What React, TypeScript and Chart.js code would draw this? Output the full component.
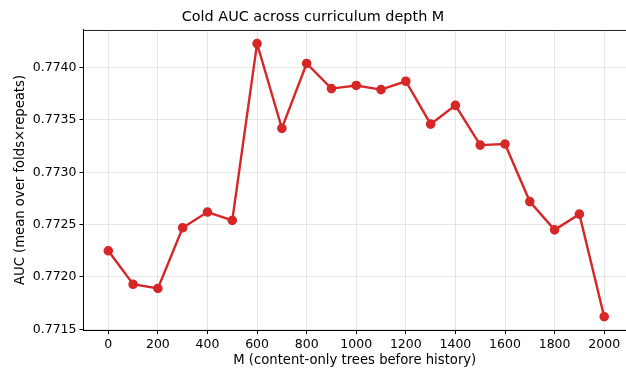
import React, { useEffect, useRef } from "react";
import { Chart, registerables } from "chart.js";

Chart.register(...registerables);

const depthM = [0, 100, 200, 300, 400, 500, 600, 700, 800, 900, 1000, 1100, 1200, 1300, 1400, 1500, 1600, 1700, 1800, 1900, 2000];
const aucValues = [0.77225, 0.77193, 0.77189, 0.77247, 0.77262, 0.77254, 0.77423, 0.77342, 0.77404, 0.77380, 0.77383, 0.77379, 0.77387, 0.77346, 0.77364, 0.77326, 0.77327, 0.77272, 0.77245, 0.77260, 0.77162];
const xTicks = [0, 200, 400, 600, 800, 1000, 1200, 1400, 1600, 1800, 2000];
const yTicks = [0.7715, 0.772, 0.7725, 0.773, 0.7735, 0.774];

const FONT = "'DejaVu Sans', sans-serif";

const framePlugin = {
  id: "frame",
  afterDatasetsDraw(chart: any) {
    const { ctx, chartArea } = chart;
    ctx.save();
    ctx.strokeStyle = "#222";
    ctx.lineWidth = 1;
    ctx.beginPath();
    ctx.moveTo(chartArea.left, chartArea.top + 0.5);
    ctx.lineTo(chartArea.right + 2, chartArea.top + 0.5);
    ctx.stroke();
    ctx.restore();
  },
};

export default function App() {
  const ref = useRef<HTMLCanvasElement | null>(null);
  useEffect(() => {
    if (!ref.current) return;
    const chart = new Chart(ref.current, {
      type: "line",
      data: {
        datasets: [
          {
            data: depthM.map((m, i) => ({ x: m, y: aucValues[i] })),
            borderColor: "#d62728",
            backgroundColor: "#d62728",
            pointBackgroundColor: "#d62728",
            pointBorderColor: "#d62728",
            borderWidth: 2.4,
            pointRadius: 3.6,
            tension: 0,
          },
        ],
      },
      options: {
        animation: false,
        responsive: false,
        layout: { padding: 0, autoPadding: false },
        plugins: {
          legend: { display: false },
          tooltip: { enabled: false },
          title: {
            display: true,
            text: "Cold AUC across curriculum depth M",
            color: "#000",
            font: { family: FONT, size: 14.4, weight: "normal" },
            padding: { top: 9, bottom: 3.7 },
          },
        },
        scales: {
          x: {
            type: "linear",
            min: -100,
            max: 2088,
            afterBuildTicks: (s: any) => {
              s.ticks = xTicks.map((v) => ({ value: v }));
            },
            afterFit: (s: any) => {
              s.height = 38;
              s.paddingLeft = 0;
              s.paddingRight = 0;
            },
            ticks: {
              color: "#000",
              font: { family: FONT, size: 12.5 },
              padding: 3,
              maxRotation: 0,
              autoSkip: false,
              callback: (v: any) => String(v),
            },
            grid: {
              color: "rgba(176,176,176,0.3)",
              tickColor: "#000",
              tickLength: 4,
              lineWidth: 1,
            },
            border: { color: "#000", width: 1 },
            title: {
              display: true,
              text: "M (content-only trees before history)",
              color: "#000",
              font: { family: FONT, size: 13.2 },
              padding: { top: 0, bottom: 0 },
            },
          },
          y: {
            type: "linear",
            min: 0.771493,
            max: 0.77436,
            afterBuildTicks: (s: any) => {
              s.ticks = yTicks.map((v) => ({ value: v }));
            },
            afterFit: (s: any) => {
              s.width = 83.5;
              s.paddingTop = 0;
              s.paddingBottom = 0;
            },
            ticks: {
              color: "#000",
              font: { family: FONT, size: 12.5 },
              padding: 3,
              autoSkip: false,
              callback: (v: any) => Number(v).toFixed(4),
            },
            grid: {
              color: "rgba(176,176,176,0.3)",
              tickColor: "#000",
              tickLength: 4,
              lineWidth: 1,
            },
            border: { color: "#000", width: 1 },
            title: {
              display: true,
              text: "AUC (mean over folds×repeats)",
              color: "#000",
              font: { family: FONT, size: 13.2 },
              padding: { top: 12.5, bottom: 0 },
            },
          },
        },
      },
      plugins: [framePlugin],
    });
    return () => chart.destroy();
  }, []);
  return (
    <div style={{ position: "absolute", left: 0, top: 0, width: 626, height: 368, background: "#fff" }}>
      <canvas ref={ref} width={626} height={368} style={{ display: "block", width: 626, height: 368 }} />
    </div>
  );
}
